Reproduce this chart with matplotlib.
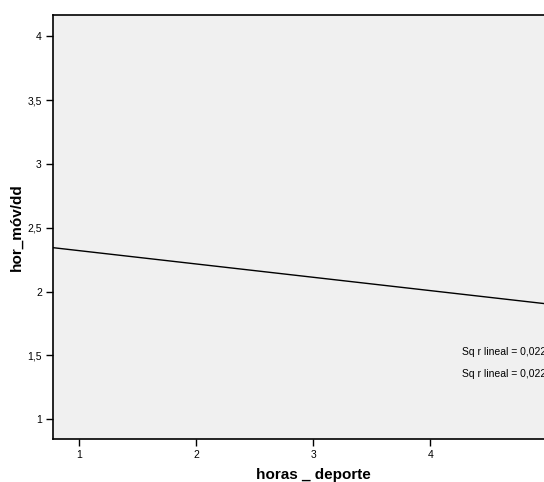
import matplotlib
matplotlib.use("Agg")
import matplotlib.pyplot as plt

# fit line (ends at the plot edges)
fit_x = [0.778, 5.22]
fit_y = [2.344, 1.880]

x_ticks = [1, 2, 3, 4]
x_labels = ["1", "2", "3", "4"]
y_ticks = [1, 1.5, 2, 2.5, 3, 3.5, 4]
y_labels = ["1", "1,5", "2", "2,5", "3", "3,5", "4"]

r2_labels = ["Sq r lineal = 0,022", "Sq r lineal = 0,022"]
r2_y = [1.523, 1.352]

plt.rcParams["font.family"] = ["Liberation Sans", "DejaVu Sans"]

W, H = 544, 482
fig = plt.figure(figsize=(W / 100, H / 100), dpi=100)
# axes runs past the right edge of the image, like the original
ax = fig.add_axes([53 / W, 1 - 439 / H, (573 - 53) / W, (439 - 14.5) / H])
ax.set_facecolor("#f0f0f0")

ax.plot(fit_x, fit_y, color="black", linewidth=1.0)

ax.set_xlim(0.778, 5.22)
ax.set_ylim(0.844, 4.172)

ax.set_xticks(x_ticks)
ax.set_xticklabels(x_labels)
ax.set_yticks(y_ticks)
ax.set_yticklabels(y_labels)
ax.tick_params(direction="out", length=5, width=1, labelsize=7.5, pad=3, colors="black")

for s in ax.spines.values():
    s.set_linewidth(1.2)
    s.set_color("black")

# the reference cuts these off at the right edge as well
for lab, yy in zip(r2_labels, r2_y):
    ax.text(4.275, yy, lab, fontsize=7.5, va="center", ha="left")

ax.set_xlabel("horas _ deporte", fontsize=11, fontweight="bold", labelpad=6)
ax.set_ylabel("hor_móv/dd", fontsize=11, fontweight="bold", labelpad=3)

fig.savefig("out.png", dpi=100)
